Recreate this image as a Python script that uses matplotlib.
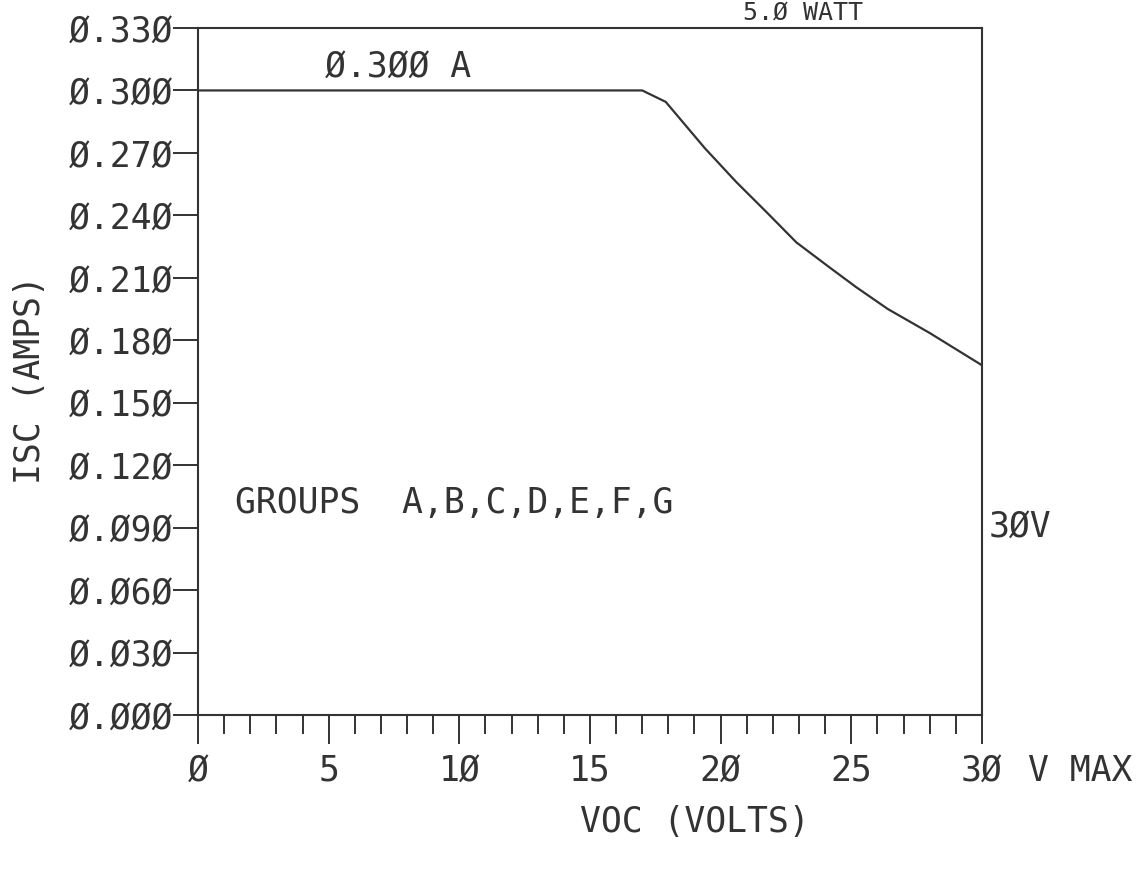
import matplotlib
matplotlib.use("Agg")
import matplotlib.pyplot as plt
from matplotlib.ticker import MultipleLocator, FuncFormatter

# curve (VOC volts, ISC amps)
voc = [0.0, 17.0, 17.9, 19.4, 20.6, 21.8, 22.9, 24.2, 25.2, 26.4, 28.0, 30.0]
isc = [0.300, 0.300, 0.2945, 0.2722, 0.256, 0.241, 0.227, 0.2147, 0.2054, 0.195, 0.1835, 0.168]

y_ticks = [0.000, 0.030, 0.060, 0.090, 0.120, 0.150, 0.180, 0.210, 0.240, 0.270, 0.300, 0.330]
x_ticks = [0, 5, 10, 15, 20, 25, 30]

ink = "#333333"
font = "DejaVu Sans Mono"
fs = 25

def slashed(s):  # plotter style zero
    return s.replace("0", "\u00d8")

fig = plt.figure(figsize=(11.47, 8.69), dpi=100)
ax = fig.add_axes([0.1726, 0.1772, 0.6835, 0.7906])

ax.plot(voc, isc, color=ink, lw=1.6)

ax.set_xlim(0, 30)
ax.set_ylim(0, 0.33)
ax.set_yticks(y_ticks)
ax.set_xticks(x_ticks)
ax.xaxis.set_minor_locator(MultipleLocator(1))

ax.yaxis.set_major_formatter(FuncFormatter(lambda v, p: slashed(f"{v:.3f}")))
ax.xaxis.set_major_formatter(FuncFormatter(lambda v, p: slashed(f"{v:g}")))

ax.tick_params(axis="y", which="major", direction="out", length=18, width=1.4,
               pad=0, colors=ink, labelsize=fs)
ax.tick_params(axis="x", which="major", direction="out", length=21, width=1.4,
               pad=7, colors=ink, labelsize=fs)
ax.tick_params(axis="x", which="minor", direction="out", length=14, width=1.4, colors=ink)
for lab in ax.get_xticklabels() + ax.get_yticklabels():
    lab.set_family(font)

for sp in ax.spines.values():
    sp.set_color(ink)
    sp.set_linewidth(1.5)

ax.text(4.85, 0.303, slashed("0.300 A"), family=font, fontsize=fs, color=ink,
        ha="left", va="bottom")
ax.text(1.4, 0.102, "GROUPS  A,B,C,D,E,F,G", family=font, fontsize=fs, color=ink,
        ha="left", va="center")
ax.text(30.25, 0.0905, slashed("30V"), family=font, fontsize=fs, color=ink,
        ha="left", va="center")

fig.text(1028 / 1147, 1 - 771 / 869, "V MAX", family=font, fontsize=fs, color=ink,
         ha="left", va="center")
fig.text(0.606, 0.054, "VOC (VOLTS)", family=font, fontsize=fs, color=ink,
         ha="center", va="center")
fig.text(0.026, 0.563, "ISC (AMPS)", family=font, fontsize=fs, color=ink,
         ha="center", va="center", rotation=90)
# title at the top edge of the scan, mostly cut off there
fig.text(743 / 1147, 0.999, slashed("5.0 WATT"), family=font, fontsize=18,
         color=ink, ha="left", va="top")

fig.savefig("out.png", dpi=100, facecolor="white")
